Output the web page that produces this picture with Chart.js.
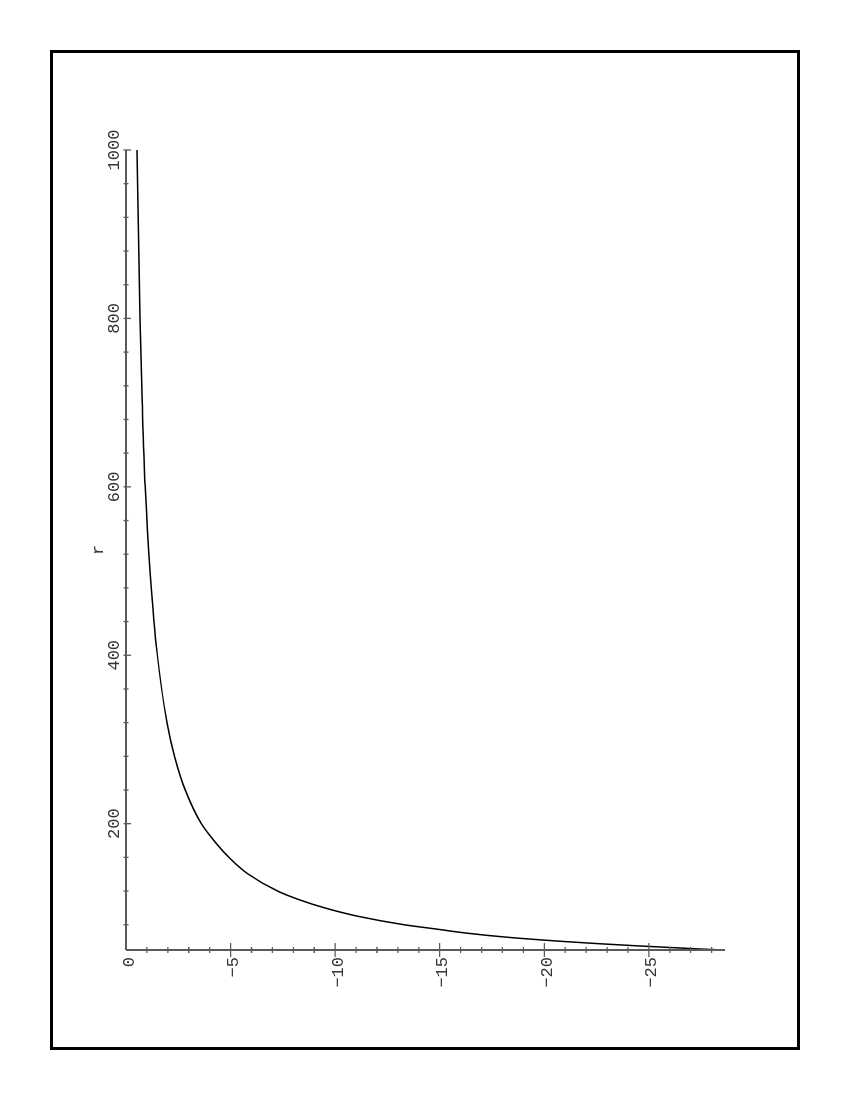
<!DOCTYPE html>
<html>
<head>
<meta charset="utf-8">
<script src="https://cdn.jsdelivr.net/npm/chart.js@4.4.0/dist/chart.umd.min.js"></script>
<style>
  html, body { margin: 0; padding: 0; background: #fff; overflow: hidden; }
  body { width: 850px; height: 1100px; position: relative; }
  /* the plot is drawn lying on its side and turned upright here */
  #wrap {
    position: absolute; left: 0; top: 0;
    width: 1100px; height: 850px;
    transform-origin: 0 0;
    transform: translateY(1100px) rotate(-90deg);
  }
</style>
</head>
<body>
<div id="wrap"><canvas id="plot" width="1100" height="850"></canvas></div>
<script>
// values
const rValues = [50, 51, 52.5, 55, 57.5, 60, 65, 70, 75, 80, 90, 100, 110, 120, 140, 160,
                 180, 200, 240, 280, 320, 400, 500, 600, 700, 800, 900, 1000];
const fValues = [-28.64, -27.6, -26.4, -24.4, -22.6, -21.0, -18.3, -16.3, -14.8, -13.3, -11.1, -9.5, -8.25, -7.25, -5.85, -4.92,
                 -4.2, -3.6, -2.83, -2.32, -1.96, -1.5, -1.15, -0.92, -0.78, -0.675, -0.595, -0.53];

const rTicks = [200, 400, 600, 800, 1000];
const fTicks = [0, -5, -10, -15, -20, -25];
const rRange = [50, 1000];
const fRange = [-28.64, 0];

const FONT = '"Liberation Mono", "DejaVu Sans Mono", monospace';
const AXIS = '#5a5a5a';

// axis lines and Maple-like ticks that cross the axis
const axesPlugin = {
    id: 'mapleAxes',
    beforeDraw(chart) {
        const ctx = chart.ctx;
        ctx.save();
        ctx.strokeStyle = '#000';
        ctx.lineWidth = 3;
        ctx.strokeRect(51.5, 51.5, 997, 747);
        ctx.restore();
    },
    afterDatasetsDraw(chart) {
        const ctx = chart.ctx;
        const xs = chart.scales.x, ys = chart.scales.y;
        const yAx = ys.getPixelForValue(0);
        const xAx = xs.getPixelForValue(rRange[0]);
        ctx.save();
        ctx.strokeStyle = AXIS;
        ctx.lineWidth = 2;
        ctx.beginPath();
        ctx.moveTo(xAx, yAx);
        ctx.lineTo(xs.getPixelForValue(rRange[1]), yAx);
        ctx.moveTo(xAx, yAx);
        ctx.lineTo(xAx, ys.getPixelForValue(fRange[0]));
        ctx.stroke();

        ctx.lineWidth = 1.3;
        ctx.beginPath();
        for (let r = 80; r <= 1000; r += 40) {
            const px = xs.getPixelForValue(r);
            const major = rTicks.includes(r);
            ctx.moveTo(px, yAx - 2.5);
            ctx.lineTo(px, yAx + (major ? 5 : 2.5));
        }
        for (let v = -1; v >= -28; v--) {
            const py = ys.getPixelForValue(v);
            const len = fTicks.includes(v) ? 7 : 3;
            ctx.moveTo(xAx - len, py);
            ctx.lineTo(xAx + len, py);
        }
        ctx.stroke();
        ctx.restore();
    }
};

const fmt = v => (v < 0 ? '\u2212' + Math.abs(v) : String(v));

new Chart(document.getElementById('plot'), {
    type: 'scatter',
    data: {
        datasets: [{
            data: rValues.map((r, i) => ({ x: r, y: fValues[i] })),
            showLine: true,
            borderColor: '#000',
            borderWidth: 1.5,
            pointRadius: 0,
            cubicInterpolationMode: 'monotone',
            fill: false
        }]
    },
    options: {
        responsive: false,
        animation: false,
        layout: { padding: { left: 0, top: 0, right: 150, bottom: 125 } },
        plugins: { legend: { display: false }, tooltip: { enabled: false } },
        scales: {
            x: {
                type: 'linear',
                position: 'top',
                min: rRange[0],
                max: rRange[1],
                afterBuildTicks: s => { s.ticks = rTicks.map(v => ({ value: v })); },
                afterFit: s => { s.height = 126; },
                grid: { display: false, drawTicks: false },
                border: { display: false },
                ticks: {
                    padding: 1,
                    maxRotation: 0,
                    color: '#333',
                    font: { family: FONT, size: 17 },
                    callback: v => fmt(v)
                },
                title: {
                    display: true,
                    text: 'r',
                    color: '#333',
                    font: { family: FONT, size: 17 },
                    padding: { top: 88, bottom: 0 }
                }
            },
            y: {
                type: 'linear',
                min: fRange[0],
                max: fRange[1],
                afterBuildTicks: s => { s.ticks = fTicks.map(v => ({ value: v })); },
                afterFit: s => { s.width = 150; },
                grid: { display: false, drawTicks: false },
                border: { display: false },
                ticks: {
                    padding: 7,
                    labelOffset: 3,
                    color: '#333',
                    font: { family: FONT, size: 17 },
                    callback: v => fmt(v)
                }
            }
        }
    },
    plugins: [axesPlugin]
});
</script>
</body>
</html>
